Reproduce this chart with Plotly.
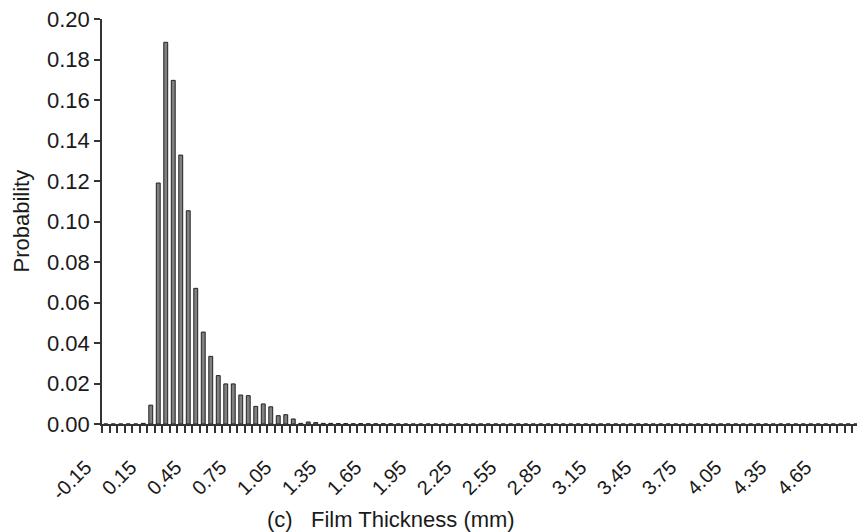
import plotly.graph_objects as go

# Film thickness bins (mm), 0.05 mm wide, and the probability of each bin
thickness = [round(-0.15 + 0.05 * i, 2) for i in range(101)]
probability_head = [
    0.0, 0.0, 0.0, 0.0, 0.0, 0.0003,           # -0.15 .. 0.10
    0.0093, 0.1190, 0.1885, 0.1697, 0.1328,     # 0.15 .. 0.35
    0.1053, 0.0670, 0.0454, 0.0334, 0.0239,     # 0.40 .. 0.60
    0.0198, 0.0198, 0.0143, 0.0140, 0.0087,     # 0.65 .. 0.85
    0.0099, 0.0085, 0.0041, 0.0046, 0.0025,     # 0.90 .. 1.10
    0.0003, 0.0010, 0.0007, 0.0003, 0.0003,     # 1.15 .. 1.35
    0.0002, 0.0002, 0.0001, 0.0002, 0.0001,     # 1.40 .. 1.60
    0.0001, 0.0001, 0.0001,                     # 1.65 .. 1.75
]
probability = probability_head + [0.0] * (len(thickness) - len(probability_head))

tick_values = [round(-0.15 + 0.30 * k, 2) for k in range(17)]
tick_labels = [f"{v:.2f}" for v in tick_values]
y_ticks = [round(0.02 * k, 2) for k in range(11)]

FONT = "Liberation Sans, Arial, sans-serif"
FS = 22
TXT = "#1a1a1a"

# plot area in pixels
L, T, B = 102, 19, 108
W, H = 857, 532
plot_w = W - L
plot_h = H - T - B
px_per_bin = 7.5
x_start = -0.175
x_end = x_start + plot_w / px_per_bin * 0.05

fig = go.Figure(
    go.Bar(
        x=thickness,
        y=probability,
        marker=dict(color="#808080", line=dict(color="#222222", width=1)),
        width=0.05 * 0.52,
    )
)

fig.update_layout(
    width=W,
    height=H,
    margin=dict(l=L, r=0, t=T, b=B),
    paper_bgcolor="white",
    plot_bgcolor="white",
    showlegend=False,
    font=dict(family=FONT, size=FS, color=TXT),
)

fig.update_xaxes(
    range=[x_start, x_end],
    tickmode="array",
    tickvals=tick_values,
    ticktext=tick_labels,
    tickangle=-45,
    ticks="",
    ticklabelstandoff=22,
    ticklabelshift=-20,
    showgrid=False,
    zeroline=False,
    showline=True,
    linecolor="#333333",
    linewidth=1.5,
    tickfont=dict(family=FONT, size=20, color=TXT),
    minor=dict(
        tickmode="linear",
        tick0=x_start,
        dtick=0.05,
        ticks="outside",
        ticklen=7,
        tickwidth=1.5,
        tickcolor="#333333",
        showgrid=False,
    ),
)

fig.update_yaxes(
    range=[0, 0.2],
    tickmode="array",
    tickvals=y_ticks,
    ticktext=[f"{v:.2f}" for v in y_ticks],
    ticks="outside",
    ticklen=6,
    tickwidth=1.5,
    tickcolor="#333333",
    showgrid=False,
    zeroline=False,
    showline=True,
    linecolor="#333333",
    linewidth=1.5,
    tickfont=dict(family=FONT, size=FS, color=TXT),
)

# axis titles
fig.add_annotation(
    text="Probability",
    xref="paper", yref="paper",
    x=(21 - L) / plot_w, y=0.5,
    xanchor="center", yanchor="middle",
    textangle=-90,
    showarrow=False,
    font=dict(family=FONT, size=FS, color=TXT),
)
fig.add_annotation(
    text="(c)\u00a0\u00a0\u00a0Film Thickness (mm)",
    xref="paper", yref="paper",
    x=(265 - L) / plot_w, y=(T + plot_h - 519) / plot_h,
    xanchor="left", yanchor="middle",
    showarrow=False,
    font=dict(family=FONT, size=FS, color=TXT),
)

fig.write_html("out.html")
